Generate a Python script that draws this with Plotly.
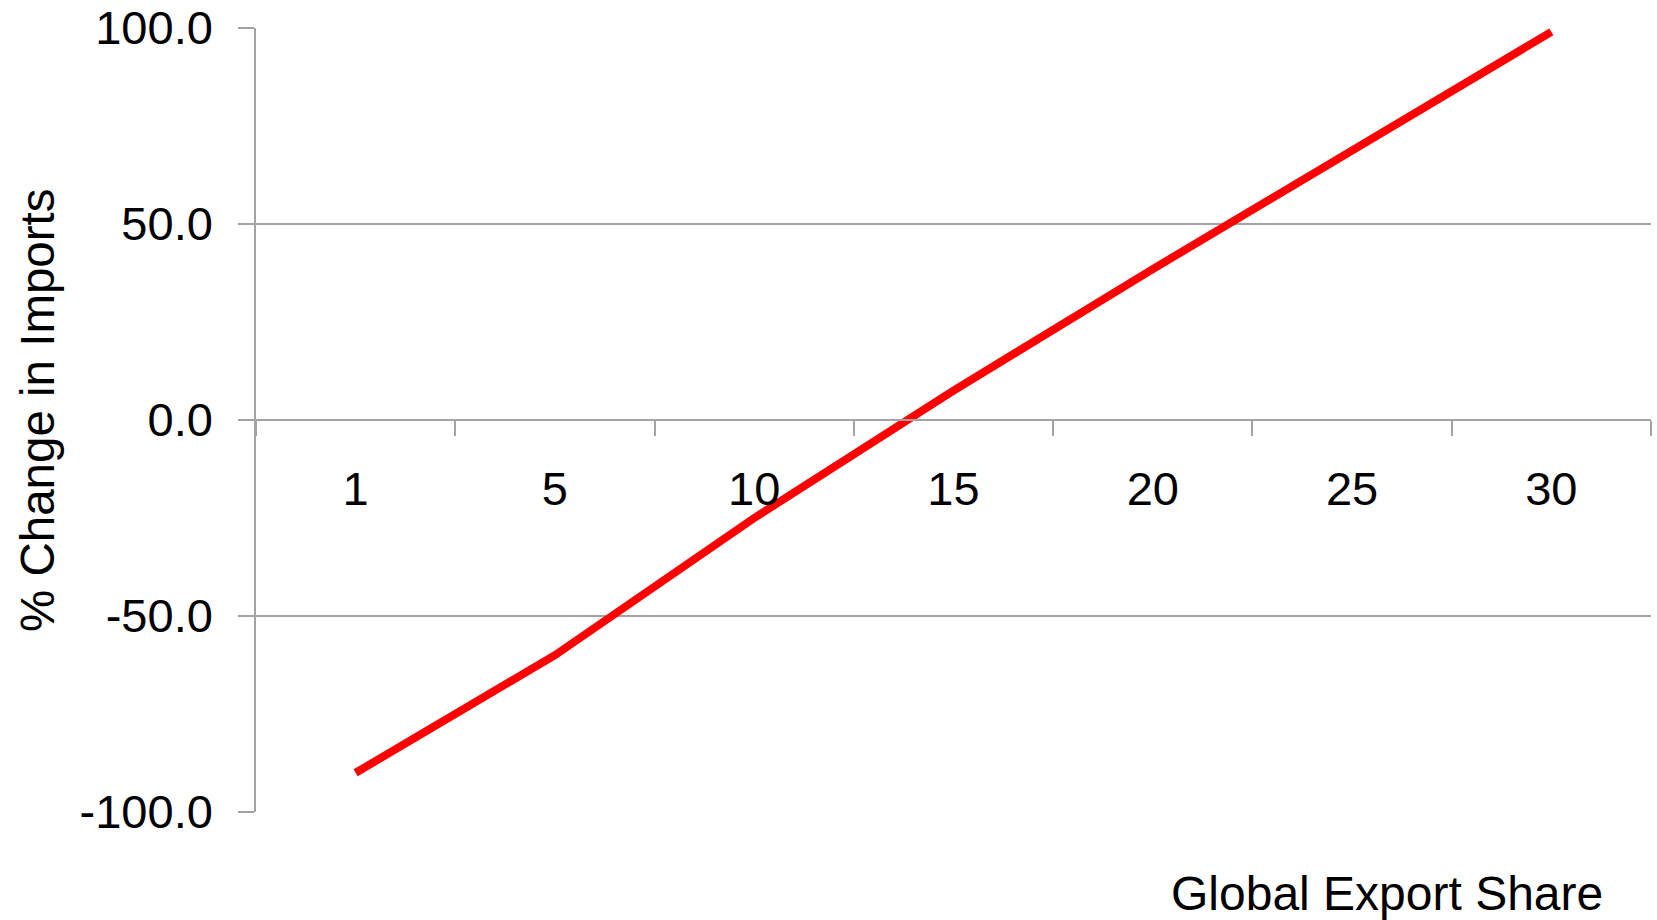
import plotly.graph_objects as go

categories = ["1", "5", "10", "15", "20", "25", "30"]
pct_change = [-90, -60, -25, 7.5, 38.5, 69, 99]
y_ticks = [-100, -50, 0, 50, 100]
y_tick_text = ["-100.0", "-50.0", "0.0", "50.0", "100.0"]

GRID = "#a3a3a3"
FONT = "Liberation Sans, Arial, sans-serif"

fig = go.Figure()
fig.add_trace(go.Scatter(
    x=categories, y=pct_change, mode="lines",
    line=dict(color="#ff0000", width=8),
    showlegend=False, hoverinfo="skip",
))

fig.update_layout(
    width=1657, height=920,
    margin=dict(l=256, r=6, t=28, b=108, autoexpand=False),
    paper_bgcolor="white", plot_bgcolor="white",
    font=dict(family=FONT, color="black", size=47),
    xaxis=dict(
        type="category", anchor="free", position=0.5,
        range=[-0.5, len(categories) - 0.5],
        showline=True, linecolor=GRID, linewidth=1.5,
        showgrid=False, zeroline=False, automargin=False,
        tickson="boundaries", ticks="outside", ticklen=15, tickwidth=1.5, tickcolor=GRID,
        tickfont=dict(size=47, family=FONT, color="black"),
        ticklabelstandoff=28,
    ),
    yaxis=dict(
        range=[-100, 100], tickvals=y_ticks, ticktext=y_tick_text,
        showline=True, linecolor=GRID, linewidth=1.5, automargin=False,
        showgrid=True, gridcolor=GRID, gridwidth=1.5, zeroline=False,
        ticks="outside", ticklen=16, tickwidth=1.5, tickcolor=GRID,
        tickfont=dict(size=47, family=FONT, color="black"),
        ticklabelstandoff=16,
    ),
    annotations=[
        dict(text="Global Export Share", xref="paper", yref="paper",
             x=(1387 - 256) / (1657 - 256 - 6), y=-(893 - 812) / (920 - 28 - 108),
             xanchor="center", yanchor="middle", showarrow=False,
             font=dict(size=48, family=FONT, color="black")),
        dict(text="% Change in Imports", xref="paper", yref="paper",
             x=-(256 - 37) / (1657 - 256 - 6), y=1 - (410 - 28) / (920 - 28 - 108),
             xanchor="center", yanchor="middle", textangle=-90, showarrow=False,
             font=dict(size=47.5, family=FONT, color="black")),
    ],
)

fig.write_html("out.html")
